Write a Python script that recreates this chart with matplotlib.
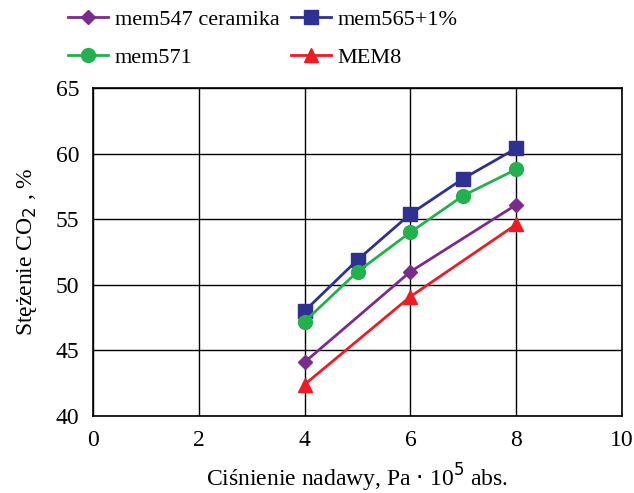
import matplotlib
matplotlib.use('Agg')
import matplotlib.pyplot as plt

plt.rcParams['font.family'] = ['Liberation Serif', 'DejaVu Serif']

# dane
x_547 = [4, 6, 8]
y_547 = [44.1, 51.0, 56.1]
x_565 = [4, 5, 6, 7, 8]
y_565 = [48.0, 51.9, 55.4, 58.1, 60.4]
x_571 = [4, 5, 6, 7, 8]
y_571 = [47.2, 51.0, 54.0, 56.8, 58.8]
x_mem8 = [4, 6, 8]
y_mem8 = [42.4, 49.1, 54.6]

fig = plt.figure(figsize=(6.34, 4.93), dpi=100)
ax = fig.add_axes([93/634, 1 - 416/493, (622-93)/634, (416-88)/493])

l1, = ax.plot(x_547, y_547, color='#7B2A8E', marker='D', ms=7, lw=2, label='mem547 ceramika')
l2, = ax.plot(x_565, y_565, color='#2E3192', marker='s', ms=10, lw=2, label='mem565+1%')
l3, = ax.plot(x_571, y_571, color='#22B14C', marker='o', ms=10, lw=2, label='mem571')
l4, = ax.plot(x_mem8, y_mem8, color='#ED1C24', marker='^', ms=10, lw=2, label='MEM8')

ax.set_xlim(0, 10)
ax.set_ylim(40, 65)
ax.set_xticks(range(0, 11, 2))
ax.set_yticks(range(40, 66, 5))
ax.grid(True, color='black', lw=1)
ax.tick_params(length=0, labelsize=17, pad=10)
for s in ax.spines.values():
    s.set_color('black')
    s.set_linewidth(1.2)

ax.set_xlabel('Ciśnienie nadawy, Pa $\\cdot$ 10$^5$ abs.', fontsize=17, labelpad=8)
ax.set_ylabel('Stężenie CO$_2$ , %', fontsize=17, labelpad=12)

# kolejnosc wierszami jak w oryginale
fig.legend([l1, l3, l2, l4], [l.get_label() for l in (l1, l3, l2, l4)],
           loc='upper left', bbox_to_anchor=(68/634, 1 - 9/493), ncol=2, frameon=False,
           fontsize=16, handlelength=1.8, columnspacing=0.5, labelspacing=0.8,
           handletextpad=0.3, borderpad=0, borderaxespad=0)

fig.savefig('out.png', dpi=100)
